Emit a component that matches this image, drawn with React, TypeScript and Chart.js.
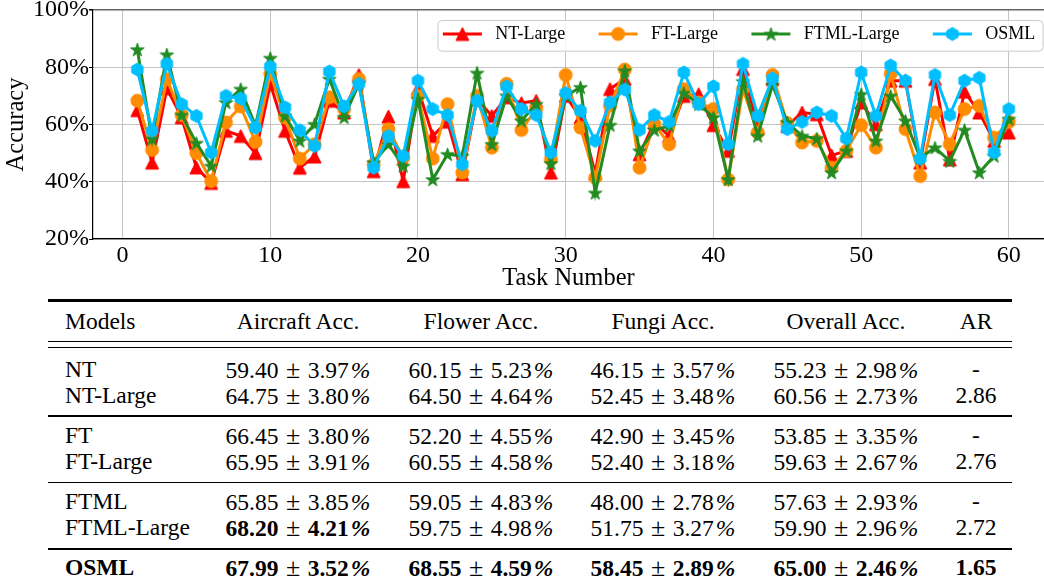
import React, { useEffect, useRef } from 'react';
import { Chart, registerables } from 'chart.js';

Chart.register(...registerables);

// ---------- Chart data ----------
const taskNumbers = [
  1, 2, 3, 4, 5, 6, 7, 8, 9, 10, 11, 12, 13, 14, 15, 16, 17, 18, 19, 20,
  21, 22, 23, 24, 25, 26, 27, 28, 29, 30, 31, 32, 33, 34, 35, 36, 37, 38, 39, 40,
  41, 42, 43, 44, 45, 46, 47, 48, 49, 50, 51, 52, 53, 54, 55, 56, 57, 58, 59, 60,
];

const ntLarge = [
  65, 46.7, 72.6, 62.5, 45, 39.6, 57.8, 56, 50, 74.2,
  57.8, 44.9, 48.8, 68.3, 64.2, 77.3, 43.7, 62.8, 40.2, 72.6,
  56, 61, 42.6, 68.9, 63, 69.5, 67.5, 68.3, 43.2, 70,
  62.5, 43, 72.4, 75.9, 49.6, 60.7, 56, 70, 70.6, 59.8,
  50.8, 79.4, 59, 75.9, 59.5, 64.2, 63.6, 49.2, 50.8, 67.7,
  60.1, 75.3, 75.3, 46.7, 75.9, 47.8, 71.5, 64.2, 54.3, 57.2,
];

const ftLarge = [
  68.3, 51.1, 75.9, 63.3, 50, 40.2, 60.7, 66.3, 53.9, 77.7,
  62.5, 48.1, 53.1, 69.5, 65.4, 75.9, 46.1, 58.4, 48.4, 70,
  48.1, 67.1, 43.2, 70, 51.9, 74.2, 58.1, 65.4, 47.8, 77.3,
  58.9, 41.4, 66.5, 79.2, 44.9, 60.1, 53.1, 72.4, 67.7, 65.4,
  40.8, 72.4, 57.2, 77.3, 60.5, 53.7, 54.3, 44.9, 50.8, 59.8,
  51.9, 77.7, 58.4, 42, 64.2, 53.1, 65.4, 66.5, 55.4, 60.9,
];

const ftmlLarge = [
  86.2, 55, 84.4, 63.3, 53.5, 45.5, 67.7, 72.4, 59.5, 83.2,
  63, 54.3, 60.1, 75.9, 62.5, 74.2, 46.7, 53.1, 45.5, 68.9,
  40.8, 49.6, 49, 78, 53.1, 70, 61.3, 67.1, 46.4, 70,
  73, 36.1, 59.8, 78.8, 50.8, 58.1, 59.5, 71, 67.1, 62.5,
  40.8, 75, 56, 73.8, 60.7, 56, 55.1, 43.2, 50.8, 70.6,
  54.3, 70, 61.3, 48.4, 51.9, 47.2, 58.1, 43.2, 49, 61.9,
];

const osml = [
  79.2, 57.8, 81.2, 67.1, 63, 50.2, 70, 69.1, 58.9, 80.2,
  66, 58, 52.5, 78.5, 66.3, 74.2, 44.9, 56, 49, 75.3,
  65.4, 63.3, 46.1, 68.3, 57.8, 73.3, 65.4, 63.3, 50.2, 71,
  64.8, 54.3, 67.7, 72.2, 58.1, 63.3, 60.9, 78.2, 67.1, 73.3,
  53.1, 81.2, 63, 76.1, 58.4, 60.9, 64.2, 63, 55.1, 78.2,
  63, 80.6, 75.3, 48.1, 77.3, 63.3, 75.3, 76.3, 50.2, 65.4,
];

const seriesLabels = ['NT-Large', 'FT-Large', 'FTML-Large', 'OSML'];
const seriesColors = ['#ff0000', '#ff8c00', '#228b22', '#00bfff'];
const seriesMarkers = ['triangle', 'circle', 'star', 'hexagon'];
const xTickValues = [0, 10, 20, 30, 40, 50, 60];
const yTickValues = [20, 40, 60, 80, 100];

// ---------- Table data ----------
const tableHeaders = ['Models', 'Aircraft Acc.', 'Flower Acc.', 'Fungi Acc.', 'Overall Acc.', 'AR'];
const tableModels = ['NT', 'NT-Large', 'FT', 'FT-Large', 'FTML', 'FTML-Large', 'OSML'];
const aircraftMean = [59.4, 64.75, 66.45, 65.95, 65.85, 68.2, 67.99];
const aircraftStd = [3.97, 3.8, 3.8, 3.91, 3.85, 4.21, 3.52];
const flowerMean = [60.15, 64.5, 52.2, 60.55, 59.05, 59.75, 68.55];
const flowerStd = [5.23, 4.64, 4.55, 4.58, 4.83, 4.98, 4.59];
const fungiMean = [46.15, 52.45, 42.9, 52.4, 48.0, 51.75, 58.45];
const fungiStd = [3.57, 3.48, 3.45, 3.18, 2.78, 3.27, 2.89];
const overallMean = [55.23, 60.56, 53.85, 59.63, 57.63, 59.9, 65.0];
const overallStd = [2.98, 2.73, 3.35, 2.67, 2.93, 2.96, 2.46];
const arValues = ['-', '2.86', '-', '2.76', '-', '2.72', '1.65'];
const boldAircraft = [false, false, false, false, false, true, true];
const boldRow = [false, false, false, false, false, false, true];

const SERIF = '"Liberation Serif", "Times New Roman", Times, serif';

function makeMarker(shape: string, color: string, r = 6.5): HTMLCanvasElement {
  const pad = 2;
  const size = Math.ceil(2 * r + 2 * pad);
  const c = document.createElement('canvas');
  c.width = size;
  c.height = size;
  const g = c.getContext('2d')!;
  const cx = size / 2;
  const cy = size / 2;
  g.fillStyle = color;
  g.strokeStyle = color;
  g.lineWidth = 1;
  g.beginPath();
  if (shape === 'circle') {
    g.arc(cx, cy, r, 0, Math.PI * 2);
  } else if (shape === 'triangle') {
    g.moveTo(cx, cy - r);
    g.lineTo(cx - r, cy + r);
    g.lineTo(cx + r, cy + r);
  } else if (shape === 'hexagon') {
    for (let k = 0; k < 6; k++) {
      const a = -Math.PI / 2 + (k * Math.PI) / 3;
      const px = cx + r * Math.cos(a);
      const py = cy + r * Math.sin(a);
      if (k === 0) g.moveTo(px, py);
      else g.lineTo(px, py);
    }
  } else if (shape === 'star') {
    const R = r + 0.6;
    for (let k = 0; k < 10; k++) {
      const rad = k % 2 === 0 ? R : R * 0.381966;
      const a = -Math.PI / 2 + (k * Math.PI) / 5;
      const px = cx + rad * Math.cos(a);
      const py = cy + 0.6 + rad * Math.sin(a);
      if (k === 0) g.moveTo(px, py);
      else g.lineTo(px, py);
    }
  }
  g.closePath();
  g.fill();
  g.stroke();
  return c;
}

const mplLegend = {
  id: 'mplLegend',
  afterDraw(chart: any) {
    const ctx = chart.ctx as CanvasRenderingContext2D;
    const area = chart.chartArea;
    ctx.save();
    ctx.font = `18px ${SERIF}`;
    const items = chart.data.datasets.map((ds: any) => ({
      label: ds.label,
      color: ds.borderColor,
      img: ds.pointStyle,
    }));
    const lineLen = 39;
    const textGap = 13.3;
    const itemGap = 33.5;
    const padL = 5.4;
    const padR = 7.3;
    const widths = items.map((it: any) => ctx.measureText(it.label).width);
    const total =
      padL + padR + items.length * (lineLen + textGap) +
      widths.reduce((a: number, b: number) => a + b, 0) + itemGap * (items.length - 1);
    const right = area.right - 1.5;
    const left = right - total;
    const top = area.top + 10;
    const h = 30.7;
    ctx.beginPath();
    (ctx as any).roundRect(left + 0.5, top + 0.5, total, h, 4);
    ctx.fillStyle = 'rgba(255,255,255,0.8)';
    ctx.fill();
    ctx.strokeStyle = '#cccccc';
    ctx.lineWidth = 1;
    ctx.stroke();
    let x = left + padL;
    const cy = top + 14;
    items.forEach((it: any, i: number) => {
      ctx.beginPath();
      ctx.strokeStyle = it.color;
      ctx.lineWidth = 3;
      ctx.moveTo(x, cy);
      ctx.lineTo(x + lineLen, cy);
      ctx.stroke();
      const img = it.img as HTMLCanvasElement;
      ctx.drawImage(img, x + lineLen / 2 - img.width / 2, cy - img.height / 2);
      x += lineLen + textGap;
      ctx.fillStyle = '#000';
      ctx.textBaseline = 'middle';
      ctx.textAlign = 'left';
      ctx.fillText(it.label, x, cy + 0.5);
      x += widths[i] + itemGap;
    });
    ctx.restore();
  },
};

function AccuracyChart() {
  const ref = useRef<HTMLCanvasElement | null>(null);
  useEffect(() => {
    if (!ref.current) return;
    const seriesValues = [ntLarge, ftLarge, ftmlLarge, osml];
    const datasets = seriesValues.map((vals, s) => ({
      label: seriesLabels[s],
      data: vals.map((v, i) => ({ x: taskNumbers[i], y: v })),
      borderColor: seriesColors[s],
      backgroundColor: seriesColors[s],
      borderWidth: 3,
      pointStyle: makeMarker(seriesMarkers[s], seriesColors[s]),
      pointRadius: 7,
      pointHoverRadius: 7,
      tension: 0,
      order: seriesValues.length - 1 - s,
    }));
    const chart = new Chart(ref.current, {
      type: 'line',
      data: { datasets },
      options: {
        animation: false,
        responsive: false,
        devicePixelRatio: 1,
        layout: { autoPadding: false, padding: { top: 10, left: 0, right: 0, bottom: 0 } },
        plugins: {
          legend: { display: false },
          tooltip: { enabled: false },
        },
        scales: {
          x: {
            type: 'linear',
            min: -2,
            max: 62.38,
            afterBuildTicks: (axis: any) => {
              axis.ticks = xTickValues.map((v) => ({ value: v }));
            },
            afterFit: (scale: any) => {
              scale.height = 53;
              scale.paddingLeft = 0;
              scale.paddingRight = 0;
            },
            ticks: {
              color: '#000',
              font: { family: SERIF, size: 24 },
              padding: 2,
              maxRotation: 0,
              autoSkip: false,
              callback: (v: any) => String(v),
            },
            grid: { color: '#c4c4c4', lineWidth: 1, drawTicks: false },
            border: { color: '#000', width: 1.2 },
            title: {
              display: true,
              text: 'Task Number',
              color: '#000',
              font: { family: SERIF, size: 24.5 },
              padding: { top: 0, bottom: -1 },
            },
          },
          y: {
            min: 20,
            max: 100,
            afterBuildTicks: (axis: any) => {
              axis.ticks = yTickValues.map((v) => ({ value: v }));
            },
            afterFit: (scale: any) => {
              scale.width = 93;
              scale.paddingTop = 0;
              scale.paddingBottom = 0;
            },
            ticks: {
              color: '#000',
              font: { family: SERIF, size: 24 },
              padding: 0,
              callback: (v: any) => `${v}%`,
            },
            grid: {
              color: (c: any) => (c.tick && c.tick.value === 100 ? '#666666' : '#c4c4c4'),
              lineWidth: (c: any) => (c.tick && c.tick.value === 100 ? 1.5 : 1),
              drawTicks: true,
              tickLength: 4,
              tickColor: '#000',
            },
            border: { color: '#000', width: 1.2 },
            title: {
              display: true,
              text: 'Accuracy',
              color: '#000',
              font: { family: SERIF, size: 24.5 },
              padding: { top: 1.5, bottom: 0 },
            },
          },
        },
      },
      plugins: [mplLegend],
    });
    return () => chart.destroy();
  }, []);
  return <canvas ref={ref} width={1044} height={292} style={{ display: 'block' }} />;
}

const FS = 23.5;
const colCenters = [0, 298, 481, 663, 846, 976];
const headerY = 322;
const rowYs = [370, 396.3, 435.7, 462.3, 501.7, 527.7, 568.3];
const rules = [
  { y: 299, h: 2.5 },
  { y: 340.5, h: 1.5 },
  { y: 346.5, h: 1.5 },
  { y: 415, h: 1.6 },
  { y: 481.5, h: 1.6 },
  { y: 548.3, h: 1.6 },
];

function ValueText({ mean, std, bold }: { mean: number; std: number; bold: boolean }) {
  return (
    <span style={{ fontWeight: bold ? 'bold' : 'normal' }}>
      {mean.toFixed(2)}
      <span style={{ margin: '0 1px', fontWeight: 'normal', fontSize: 26 }}> ± </span>
      {std.toFixed(2)}
      <span style={{ fontStyle: 'italic', marginLeft: 2 }}>%</span>
    </span>
  );
}

function Cell({ x, y, align, children }: any) {
  const top = y - 0.5065 * FS;
  const style: React.CSSProperties = {
    position: 'absolute',
    top,
    lineHeight: `${FS}px`,
    fontSize: FS,
    fontFamily: SERIF,
    whiteSpace: 'nowrap',
    color: '#000',
  };
  if (align === 'left') {
    style.left = x;
  } else {
    style.left = x - 150;
    style.width = 300;
    style.textAlign = 'center';
  }
  return <div style={style}>{children}</div>;
}

function ResultsTable() {
  const means = [aircraftMean, flowerMean, fungiMean, overallMean];
  const stds = [aircraftStd, flowerStd, fungiStd, overallStd];
  return (
    <>
      {rules.map((r, i) => (
        <div
          key={`r${i}`}
          style={{ position: 'absolute', left: 48, width: 964, top: r.y, height: r.h, background: '#000' }}
        />
      ))}
      {tableHeaders.map((h, c) => (
        <Cell key={`h${c}`} x={c === 0 ? 65 : colCenters[c]} y={headerY} align={c === 0 ? 'left' : 'center'}>
          {h}
        </Cell>
      ))}
      {tableModels.map((m, r) => (
        <React.Fragment key={`row${r}`}>
          <Cell x={65} y={rowYs[r]} align="left">
            <span style={{ fontWeight: boldRow[r] ? 'bold' : 'normal' }}>{m}</span>
          </Cell>
          {means.map((col, c) => (
            <Cell key={`c${c}`} x={colCenters[c + 1]} y={rowYs[r]} align="center">
              <ValueText
                mean={col[r]}
                std={stds[c][r]}
                bold={boldRow[r] || (c === 0 && boldAircraft[r])}
              />
            </Cell>
          ))}
          <Cell x={colCenters[5]} y={rowYs[r]} align="center">
            <span style={{ fontWeight: boldRow[r] ? 'bold' : 'normal' }}>{arValues[r]}</span>
          </Cell>
        </React.Fragment>
      ))}
    </>
  );
}

export default function App() {
  return (
    <div
      style={{
        position: 'absolute',
        left: 0,
        top: 0,
        width: 1044,
        height: 586,
        background: '#fff',
        overflow: 'hidden',
      }}
    >
      <div style={{ position: 'absolute', left: 0, top: 0 }}>
        <AccuracyChart />
      </div>
      <ResultsTable />
    </div>
  );
}
